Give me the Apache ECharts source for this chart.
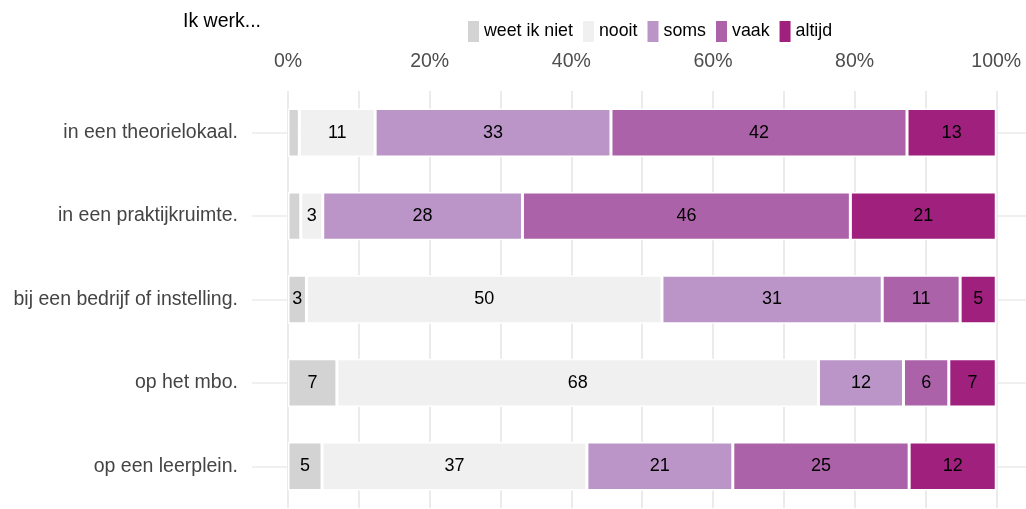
<!DOCTYPE html>
<html>
<head>
<meta charset="utf-8">
<script src="https://cdn.jsdelivr.net/npm/echarts@6/dist/echarts.min.js"></script>
<style>
  html, body { margin: 0; padding: 0; background: #fff; }
  #chart { width: 1026px; height: 509px; }
</style>
</head>
<body>
<div id="chart"></div>
<script>
  // rows, top to bottom
  const categories = [
    'in een theorielokaal.',
    'in een praktijkruimte.',
    'bij een bedrijf of instelling.',
    'op het mbo.',
    'op een leerplein.'
  ];
  const answerNames = ['weet ik niet', 'nooit', 'soms', 'vaak', 'altijd'];
  // percentages per answer, one value per row
  const weetIkNiet = [1.6, 1.8, 2.6, 6.9, 4.8];
  const nooit = [10.7, 3.1, 50.2, 68.0, 37.4];
  const soms = [33.3, 28.2, 31.1, 12.0, 20.6];
  const vaak = [41.8, 46.3, 11.0, 6.4, 24.9];
  const altijd = [12.6, 20.6, 5.1, 6.7, 12.3];
  const xTickLabels = [0, 20, 40, 60, 80, 100];
  const xGridValues = [0, 10, 20, 30, 40, 50, 60, 70, 80, 90, 100];

  const colors = ['#d3d3d3', '#f0f0f0', '#bb95c8', '#ac62a8', '#a0207e'];
  const seriesValues = [weetIkNiet, nooit, soms, vaak, altijd];
  const font = 'Liberation Sans, Arial, sans-serif';

  const chart = echarts.init(document.getElementById('chart'));

  const barSeries = answerNames.map((name, i) => ({
    name: name,
    type: 'bar',
    stack: 'total',
    barWidth: '58%',
    z: 3,
    itemStyle: { color: colors[i], borderColor: '#fff', borderWidth: 1.5 },
    label: {
      show: true,
      position: 'inside',
      color: '#000',
      fontSize: 18,
      fontFamily: font,
      formatter: (p) => (p.value >= 2.5 ? Math.round(p.value) : '')
    },
    emphasis: { disabled: true },
    data: seriesValues[i]
  }));

  // horizontal grid lines at row centres, drawn under the bars
  const rowLines = {
    type: 'line',
    data: [],
    z: 1,
    silent: true,
    markLine: {
      silent: true,
      z: 1,
      symbol: 'none',
      label: { show: false },
      lineStyle: { color: '#ebebeb', width: 1.5, type: 'solid' },
      data: categories.map((c) => ({ yAxis: c }))
    }
  };

  chart.setOption({
    animation: false,
    textStyle: { fontFamily: font },
    title: {
      text: 'Ik werk...',
      left: 183,
      top: 12,
      padding: 0,
      textStyle: { fontSize: 19.5, fontWeight: 'normal', color: '#000', fontFamily: font }
    },
    legend: {
      data: answerNames,
      left: 466,
      top: 19,
      padding: 0,
      icon: 'rect',
      itemWidth: 13,
      itemHeight: 23,
      itemGap: 8,
      selectedMode: false,
      textStyle: { fontSize: 17.8, color: '#000', fontFamily: font, padding: [0, 0, 0, -1] }
    },
    grid: {
      left: 251.9,
      top: 91,
      right: 0,
      height: 417,
      containLabel: false
    },
    xAxis: {
      type: 'value',
      position: 'top',
      min: -5.1,
      max: 104.2,
      axisLine: { show: false },
      axisTick: { show: false, customValues: xGridValues },
      axisLabel: {
        customValues: xTickLabels,
        formatter: '{value}%',
        fontSize: 19.5,
        color: '#4d4d4d',
        margin: 19,
        fontFamily: font
      },
      splitLine: { show: true, lineStyle: { color: '#ebebeb', width: 2 } }
    },
    yAxis: {
      type: 'category',
      data: categories,
      inverse: true,
      axisLine: { show: false },
      axisTick: { show: false },
      splitLine: { show: false },
      axisLabel: { fontSize: 19.5, color: '#444', margin: 14, fontFamily: font }
    },
    series: [rowLines].concat(barSeries)
  });
</script>
</body>
</html>
